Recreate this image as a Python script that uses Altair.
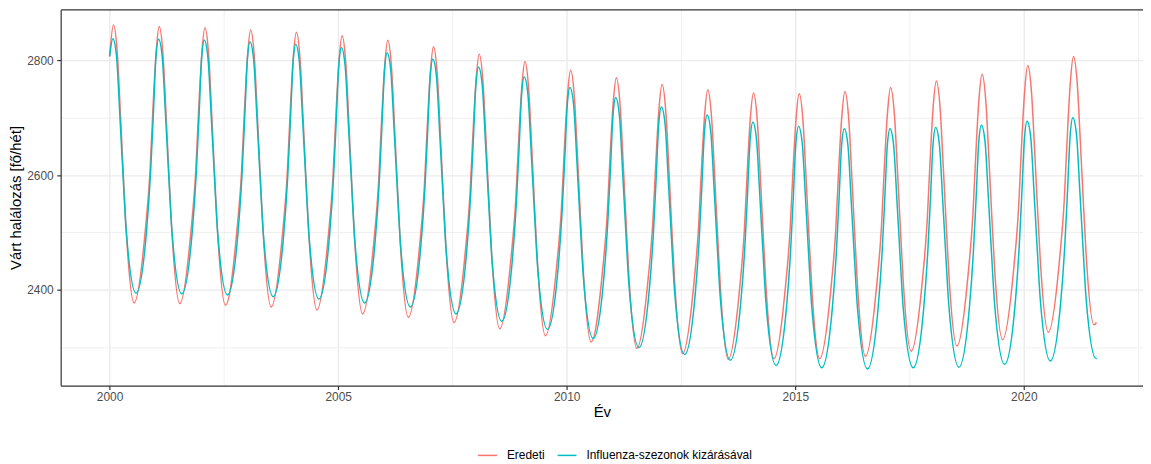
import altair as alt
import pandas as pd

years = list(range(2000, 2022))
series_names = ["Eredeti", "Influenza-szezonok kizárásával"]
series_colors = ["#F8766D", "#00BFC4"]

# ---- "Eredeti" (red): offsets within each year and values
eredeti_offsets = [0.015, 0.085, 0.172, 0.237, 0.295, 0.36, 0.535, 0.785, 0.885, 0.945]
eredeti_first_offsets = [0.0, 0.085, 0.172, 0.237, 0.295, 0.36, 0.535, 0.785, 0.885, 0.945]
eredeti_last_offsets = [0.015, 0.085, 0.172, 0.237, 0.295, 0.36, 0.535, 0.59]
eredeti_values = [
    [2807, 2862, 2809, 2707, 2610, 2508, 2377, 2507, 2608, 2710],  # 2000
    [2811, 2859, 2806, 2704, 2608, 2506, 2376, 2506, 2607, 2708],  # 2001
    [2809, 2857, 2804, 2702, 2605, 2504, 2373, 2503, 2603, 2704],  # 2002
    [2805, 2853, 2800, 2698, 2602, 2500, 2370, 2499, 2600, 2700],  # 2003
    [2801, 2849, 2796, 2694, 2597, 2496, 2365, 2494, 2594, 2695],  # 2004
    [2795, 2843, 2790, 2688, 2591, 2489, 2358, 2487, 2587, 2687],  # 2005
    [2787, 2835, 2782, 2680, 2584, 2482, 2352, 2479, 2579, 2678],  # 2006
    [2777, 2824, 2771, 2670, 2574, 2473, 2343, 2469, 2568, 2666],  # 2007
    [2764, 2811, 2758, 2658, 2562, 2461, 2332, 2458, 2556, 2654],  # 2008
    [2751, 2798, 2745, 2645, 2549, 2449, 2320, 2445, 2542, 2640],  # 2009
    [2737, 2783, 2731, 2631, 2537, 2437, 2309, 2434, 2530, 2627],  # 2010
    [2724, 2770, 2718, 2619, 2525, 2425, 2298, 2422, 2519, 2615],  # 2011
    [2712, 2758, 2706, 2608, 2514, 2416, 2289, 2413, 2510, 2606],  # 2012
    [2703, 2749, 2697, 2599, 2505, 2406, 2279, 2404, 2502, 2599],  # 2013
    [2697, 2743, 2692, 2595, 2502, 2405, 2280, 2405, 2502, 2599],  # 2014
    [2696, 2742, 2691, 2594, 2502, 2405, 2280, 2406, 2504, 2602],  # 2015
    [2699, 2746, 2695, 2598, 2506, 2409, 2284, 2411, 2509, 2608],  # 2016
    [2706, 2753, 2702, 2606, 2514, 2417, 2293, 2420, 2519, 2618],  # 2017
    [2717, 2764, 2713, 2616, 2524, 2427, 2302, 2430, 2530, 2629],  # 2018
    [2729, 2776, 2725, 2628, 2535, 2438, 2313, 2442, 2542, 2643],  # 2019
    [2743, 2791, 2740, 2642, 2549, 2452, 2326, 2456, 2557, 2658],  # 2020
    [2759, 2807, 2756, 2657, 2564, 2465, 2339, 2343],              # 2021
]

# ---- "Influenza-szezonok kizárásával" (cyan)
influenza_offsets = [0.014, 0.072, 0.152, 0.224, 0.289, 0.362, 0.579, 0.811, 0.898, 0.956]
influenza_first_offsets = [0.0, 0.072, 0.152, 0.224, 0.289, 0.362, 0.579, 0.811, 0.898, 0.956]
influenza_last_offsets = [0.014, 0.072, 0.152, 0.224, 0.289, 0.362, 0.579, 0.59]
influenza_values = [
    [2807, 2838, 2807, 2705, 2607, 2505, 2394, 2505, 2607, 2704],  # 2000
    [2806, 2837, 2806, 2704, 2606, 2504, 2393, 2504, 2605, 2702],  # 2001
    [2804, 2835, 2804, 2702, 2604, 2502, 2391, 2501, 2603, 2700],  # 2002
    [2801, 2832, 2801, 2699, 2601, 2499, 2388, 2498, 2599, 2696],  # 2003
    [2797, 2828, 2797, 2695, 2597, 2495, 2384, 2494, 2594, 2691],  # 2004
    [2791, 2822, 2791, 2689, 2591, 2488, 2377, 2486, 2586, 2682],  # 2005
    [2782, 2813, 2782, 2680, 2583, 2481, 2370, 2478, 2577, 2672],  # 2006
    [2772, 2802, 2771, 2669, 2571, 2469, 2358, 2466, 2564, 2659],  # 2007
    [2758, 2788, 2757, 2655, 2558, 2456, 2345, 2452, 2550, 2643],  # 2008
    [2741, 2771, 2740, 2639, 2542, 2441, 2331, 2437, 2534, 2626],  # 2009
    [2724, 2753, 2722, 2622, 2525, 2425, 2315, 2420, 2517, 2609],  # 2010
    [2706, 2735, 2705, 2604, 2508, 2408, 2299, 2404, 2501, 2593],  # 2011
    [2690, 2719, 2689, 2589, 2494, 2395, 2287, 2392, 2488, 2580],  # 2012
    [2676, 2705, 2675, 2577, 2482, 2384, 2277, 2381, 2476, 2568],  # 2013
    [2663, 2692, 2662, 2565, 2472, 2374, 2268, 2372, 2468, 2560],  # 2014
    [2656, 2685, 2656, 2559, 2466, 2369, 2264, 2368, 2464, 2556],  # 2015
    [2652, 2681, 2652, 2555, 2463, 2367, 2262, 2367, 2463, 2555],  # 2016
    [2652, 2681, 2652, 2556, 2464, 2368, 2264, 2369, 2465, 2557],  # 2017
    [2654, 2683, 2654, 2558, 2466, 2370, 2265, 2371, 2468, 2560],  # 2018
    [2658, 2687, 2658, 2562, 2470, 2374, 2270, 2376, 2474, 2567],  # 2019
    [2664, 2694, 2665, 2569, 2477, 2381, 2276, 2382, 2480, 2573],  # 2020
    [2670, 2700, 2671, 2574, 2482, 2385, 2280, 2281],              # 2021
]

x_major = [2000, 2005, 2010, 2015, 2020]
x_minor = [2002.5, 2007.5, 2012.5, 2017.5, 2022.5]
y_major = [2400, 2600, 2800]
y_minor = [2300, 2500, 2700]

rows = []


def add_series(name, values, offsets, first, last):
    n = len(years)
    for i, (yr, vals) in enumerate(zip(years, values)):
        offs = first if i == 0 else (last if i == n - 1 else offsets)
        for o, v in zip(offs, vals):
            rows.append({"ev": yr + o, "ertek": v, "sorozat": name})


add_series(series_names[0], eredeti_values, eredeti_offsets,
           eredeti_first_offsets, eredeti_last_offsets)
add_series(series_names[1], influenza_values, influenza_offsets,
           influenza_first_offsets, influenza_last_offsets)
df = pd.DataFrame(rows)

FONT = "Liberation Sans"
x_scale = alt.Scale(domain=[1998.93, 2022.607], nice=False, zero=False)
y_scale = alt.Scale(domain=[2233, 2889], nice=False, zero=False)

minor = alt.Chart(df).mark_line(opacity=0).encode(
    x=alt.X("ev:Q", scale=x_scale, title=None,
            axis=alt.Axis(orient="top", values=x_minor, grid=True,
                          gridColor="#EBEBEB", gridWidth=0.75,
                          labels=False, ticks=False, domain=True,
                          domainColor="#333333", domainWidth=1.2)),
    y=alt.Y("ertek:Q", scale=y_scale, title=None,
            axis=alt.Axis(orient="right", values=y_minor, grid=True,
                          gridColor="#EBEBEB", gridWidth=0.75,
                          labels=False, ticks=False, domain=False)),
)

lines = alt.Chart(df).mark_line(strokeWidth=1.5, interpolate="monotone").encode(
    x=alt.X("ev:Q", scale=x_scale, title="Év",
            axis=alt.Axis(values=x_major, format="d", grid=True,
                          gridColor="#EBEBEB", gridWidth=1.4,
                          domainColor="#333333", domainWidth=1.2,
                          tickColor="#333333", tickWidth=1.2, tickSize=4,
                          labelFont=FONT, labelFontSize=12, labelColor="#4D4D4D",
                          labelPadding=2.5, titleFont=FONT, titleFontSize=15,
                          titleFontWeight="normal", titleColor="#000000",
                          titlePadding=2)),
    y=alt.Y("ertek:Q", scale=y_scale, title="Várt halálozás [fő/hét]",
            axis=alt.Axis(values=y_major, format="d", grid=True,
                          gridColor="#EBEBEB", gridWidth=1.4,
                          domainColor="#333333", domainWidth=1.2,
                          tickColor="#333333", tickWidth=1.2, tickSize=4,
                          labelFont=FONT, labelFontSize=12, labelColor="#4D4D4D",
                          labelPadding=3.5, titleFont=FONT, titleFontSize=15,
                          titleFontWeight="normal", titleColor="#000000",
                          titlePadding=3)),
    color=alt.Color("sorozat:N", title=None,
                    scale=alt.Scale(domain=series_names, range=series_colors),
                    legend=alt.Legend(orient="none", legendX=419, legendY=438,
                                      direction="horizontal", padding=0,
                                      symbolType="stroke", symbolSize=361,
                                      symbolStrokeWidth=1.5,
                                      labelFont=FONT, labelFontSize=12,
                                      labelColor="#000000", labelOffset=9,
                                      labelLimit=400, columnPadding=9)),
)

chart = (
    alt.layer(minor, lines)
    .resolve_axis(x="independent", y="independent")
    .properties(width=1089, height=378.5,
                autosize=alt.AutoSizeParams(type="none"),
                padding={"left": 53, "top": 0, "right": 0, "bottom": 77},
                background="#FFFFFF")
    .configure_view(stroke=None)
)

chart.save("out.html", embed_options={"renderer": "svg", "actions": False})
